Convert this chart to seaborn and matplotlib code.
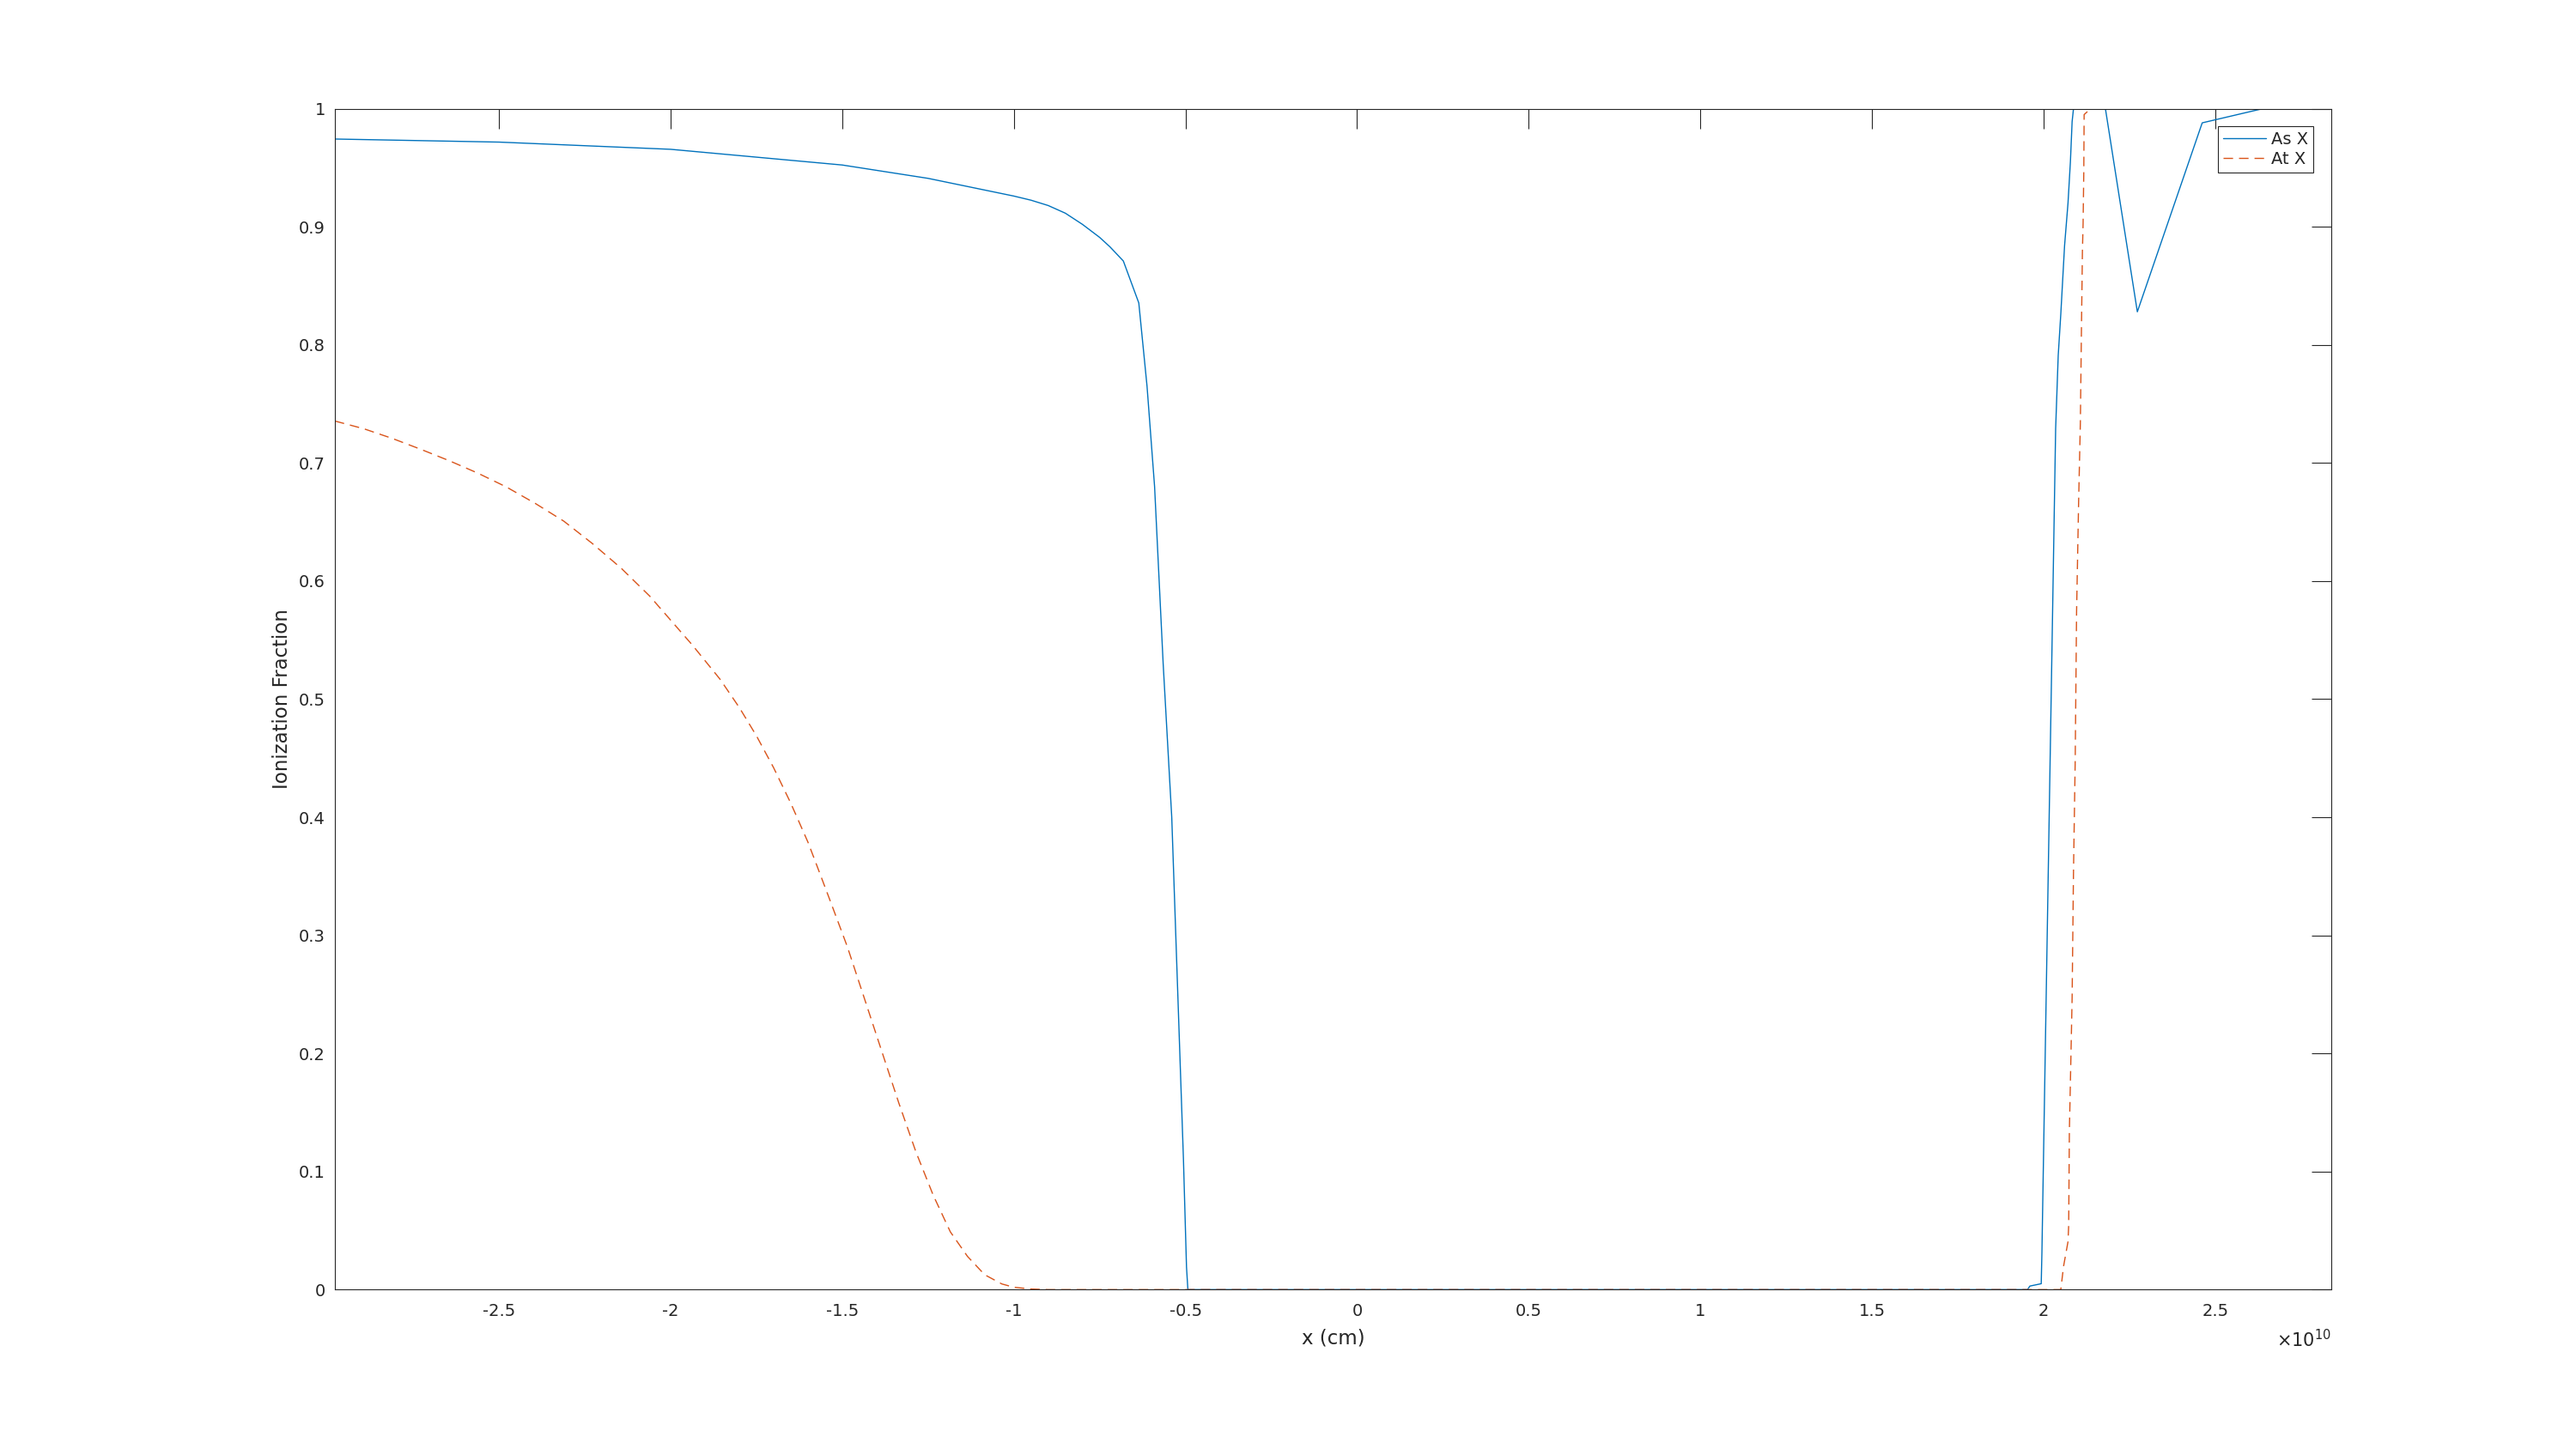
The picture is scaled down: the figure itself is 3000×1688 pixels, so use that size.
import numpy as np
import pandas as pd
import matplotlib
matplotlib.use("Agg")
import matplotlib.pyplot as plt
import seaborn as sns
from matplotlib.ticker import FixedLocator, FuncFormatter

# x positions are in units of 1e10 cm
as_x = [-2.978, -2.5, -2.0, -1.5, -1.25, -1.0, -0.95, -0.9, -0.85, -0.8, -0.75,
        -0.72, -0.681, -0.636, -0.612, -0.59, -0.565, -0.54, -0.506, -0.497, -0.493,
        1.953, 1.96, 1.993, 1.995, 2.035, 2.0425, 2.05, 2.061, 2.071, 2.078,
        2.083, 2.087, 2.18, 2.273, 2.462, 2.638, 2.838]
as_frac = [0.9743, 0.9717, 0.9656, 0.9523, 0.941, 0.926, 0.9225, 0.918, 0.9115, 0.902, 0.891,
           0.883, 0.871, 0.8355, 0.765, 0.68, 0.53, 0.40, 0.111, 0.019, 0.0,
           0.0, 0.003, 0.005, 0.031, 0.729, 0.791, 0.826, 0.884, 0.920, 0.955,
           0.989, 1.0, 1.0, 0.828, 0.988, 1.0, 1.0]

at_x = [-2.978, -2.894, -2.811, -2.728, -2.644, -2.561, -2.478, -2.394, -2.311, -2.228,
        -2.144, -2.061, -2.019, -1.936, -1.856, -1.8, -1.75, -1.7, -1.65, -1.6,
        -1.577, -1.535, -1.485, -1.435, -1.385, -1.335, -1.285, -1.235, -1.185, -1.135,
        -1.085, -1.035, -1.0, -0.95, -0.9,
        2.05, 2.058, 2.071, 2.073, 2.075, 2.079, 2.083, 2.087, 2.092, 2.096,
        2.102, 2.107, 2.110, 2.113, 2.115, 2.117, 2.118, 2.137, 2.838]
at_frac = [0.7355, 0.729, 0.7208, 0.7116, 0.7018, 0.6913, 0.6796, 0.6657, 0.6507, 0.6318,
           0.6109, 0.5873, 0.5733, 0.5456, 0.5169, 0.493, 0.469, 0.442, 0.412, 0.379,
           0.3615, 0.3292, 0.2903, 0.2462, 0.2020, 0.1579, 0.1164, 0.0800, 0.0489, 0.0281,
           0.0126, 0.0048, 0.002, 0.0005, 0.0,
           0.0, 0.0196, 0.0406, 0.0546, 0.134, 0.190, 0.247, 0.354, 0.448, 0.574,
           0.668, 0.734, 0.809, 0.879, 0.903, 0.947, 0.995, 1.0, 1.0]

x_ticks = [-2.5, -2, -1.5, -1, -0.5, 0, 0.5, 1, 1.5, 2, 2.5]
y_ticks = [0, 0.1, 0.2, 0.3, 0.4, 0.5, 0.6, 0.7, 0.8, 0.9, 1]
x_scale = 1e10

df_as = pd.DataFrame({"x": np.array(as_x) * x_scale, "frac": as_frac})
df_at = pd.DataFrame({"x": np.array(at_x) * x_scale, "frac": at_frac})

sns.set_theme(style="white")
plt.rcParams["font.family"] = ["DejaVu Sans"]
plt.rcParams["mathtext.fontset"] = "dejavusans"
plt.rcParams["axes.unicode_minus"] = False

dark = "#262626"
fig = plt.figure(figsize=(30, 16.88), dpi=100)
ax = fig.add_axes([0.13, 0.11, 0.775, 0.815])

sns.lineplot(data=df_as, x="x", y="frac", ax=ax, color="#0072BD", lw=1.0,
             estimator=None, label="As X")
sns.lineplot(data=df_at, x="x", y="frac", ax=ax, color="#D95319", lw=1.0,
             estimator=None, linestyle=(0, (8, 5)), label="At X")

ax.set_xlim(-2.978 * x_scale, 2.838 * x_scale)
ax.set_ylim(0, 1)
ax.xaxis.set_major_locator(FixedLocator([t * x_scale for t in x_ticks]))
ax.xaxis.set_major_formatter(FuncFormatter(lambda v, p: f"{v / x_scale:g}"))
ax.yaxis.set_major_locator(FixedLocator(y_ticks))
ax.yaxis.set_major_formatter(FuncFormatter(lambda v, p: f"{v:g}"))

ax.tick_params(axis="both", direction="in", length=16.5, width=0.8, colors=dark,
               labelsize=14, top=True, right=True)
ax.tick_params(axis="x", pad=11)
ax.tick_params(axis="y", pad=8)
for s in ax.spines.values():
    s.set_color(dark)
    s.set_linewidth(0.8)

ax.set_xlabel("x (cm)", fontsize=16.5, color=dark, labelpad=8)
ax.set_ylabel("Ionization Fraction", fontsize=16.5, color=dark, labelpad=6)
ax.text(1.0, -0.0487, r"$\times10^{10}$", transform=ax.transAxes, ha="right",
        va="baseline", fontsize=15, color=dark)

leg = ax.legend(loc="upper right", bbox_to_anchor=(0.991, 0.985), borderaxespad=0,
                fontsize=14, handlelength=2.6, handletextpad=0.3, labelspacing=0.2,
                borderpad=0.3, fancybox=False, framealpha=1, edgecolor=dark)
leg.get_frame().set_linewidth(0.8)
for t in leg.get_texts():
    t.set_color(dark)

fig.savefig("out.png", dpi=100)
